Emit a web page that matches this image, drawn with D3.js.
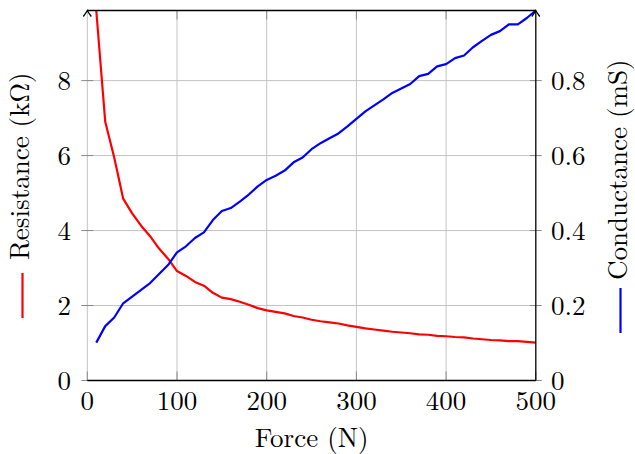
<!DOCTYPE html>
<html>
<head>
<meta charset="utf-8">
<script src="https://cdn.jsdelivr.net/npm/d3@7"></script>
<style>
  body { margin: 0; background: #fff; }
</style>
</head>
<body>
<div id="main"></div>
<script>
// force samples (N)
const force = [10, 20, 30, 40, 50, 60, 70, 80, 90, 100,
  110, 120, 130, 140, 150, 160, 170, 180, 190, 200,
  210, 220, 230, 240, 250, 260, 270, 280, 290, 300,
  310, 320, 330, 340, 350, 360, 370, 380, 390, 400,
  410, 420, 430, 440, 450, 460, 470, 480, 490, 500];
// resistance (kOhm)
const resistance = [9.87, 6.90, 5.95, 4.85, 4.46, 4.13, 3.85, 3.52, 3.25, 2.92,
  2.79, 2.63, 2.53, 2.34, 2.21, 2.17, 2.10, 2.02, 1.93, 1.87,
  1.83, 1.79, 1.72, 1.68, 1.62, 1.58, 1.55, 1.52, 1.47, 1.43,
  1.39, 1.36, 1.33, 1.30, 1.28, 1.26, 1.23, 1.22, 1.19, 1.18,
  1.16, 1.15, 1.12, 1.10, 1.08, 1.07, 1.05, 1.05, 1.03, 1.01];
// conductance (mS)
const conductance = [0.101, 0.145, 0.168, 0.206, 0.224, 0.242, 0.260, 0.284, 0.308, 0.342,
  0.358, 0.380, 0.395, 0.428, 0.452, 0.460, 0.477, 0.496, 0.518, 0.535,
  0.546, 0.560, 0.582, 0.595, 0.617, 0.633, 0.646, 0.659, 0.678, 0.698,
  0.718, 0.734, 0.750, 0.767, 0.779, 0.791, 0.812, 0.818, 0.838, 0.844,
  0.860, 0.867, 0.889, 0.906, 0.922, 0.932, 0.950, 0.950, 0.967, 0.987];
// tick values
const xTicks = [0, 100, 200, 300, 400, 500];
const leftTicks = [0, 2, 4, 6, 8];
const rightTicks = [0, 0.2, 0.4, 0.6, 0.8];

const serif = '"Latin Modern Roman", "Liberation Serif", "Times New Roman"';

function main() {
  const width = 635;
  const height = 454;
  // plot area edges
  const left = 87.3;
  const right = 535.8;
  const top = 10.5;
  const bottom = 380.5;
  const fontSize = 27;

  const xScale = d3.scaleLinear().domain([0, 500]).range([left, right]);
  const yLeft = d3.scaleLinear().domain([0, 9.87]).range([bottom, top]);
  const yRight = d3.scaleLinear().domain([0, 0.987]).range([bottom, top]);

  const svg = d3.select('#main')
    .append('svg')
    .attr('width', width)
    .attr('height', height)
    .style('display', 'block');

  svg.append('rect').attr('width', width).attr('height', height).attr('fill', '#fff');

  // grid lines
  const grid = svg.append('g').attr('stroke', '#c4c4c4').attr('stroke-width', 1);
  grid.selectAll('.vgrid')
    .data(xTicks.slice(1, -1))
    .enter()
    .append('line')
    .attr('x1', d => xScale(d)).attr('x2', d => xScale(d))
    .attr('y1', top).attr('y2', bottom);
  grid.selectAll('.hgrid')
    .data(leftTicks.slice(1))
    .enter()
    .append('line')
    .attr('x1', left).attr('x2', right)
    .attr('y1', d => yLeft(d)).attr('y2', d => yLeft(d));
  // left axis line is drawn light
  grid.append('line')
    .attr('x1', left).attr('x2', left)
    .attr('y1', top).attr('y2', bottom);

  // tick marks
  const ticks = svg.append('g').attr('stroke', '#8a8a8a').attr('stroke-width', 1);
  ticks.selectAll('.xt')
    .data(xTicks)
    .enter()
    .append('line')
    .attr('x1', d => xScale(d)).attr('x2', d => xScale(d))
    .attr('y1', bottom - 9).attr('y2', bottom);
  ticks.selectAll('.xtt')
    .data(xTicks.slice(1, -1))
    .enter()
    .append('line')
    .attr('x1', d => xScale(d)).attr('x2', d => xScale(d))
    .attr('y1', top).attr('y2', top + 9);
  ticks.selectAll('.lt')
    .data(leftTicks)
    .enter()
    .append('line')
    .attr('x1', left - 6).attr('x2', left + 6)
    .attr('y1', d => yLeft(d)).attr('y2', d => yLeft(d));
  ticks.selectAll('.rt')
    .data(rightTicks)
    .enter()
    .append('line')
    .attr('x1', right - 6).attr('x2', right + 6)
    .attr('y1', d => yRight(d)).attr('y2', d => yRight(d));

  // curves
  const lineLeft = d3.line().x((d, i) => xScale(force[i])).y(d => yLeft(d));
  const lineRight = d3.line().x((d, i) => xScale(force[i])).y(d => yRight(d));
  svg.append('defs').append('clipPath').attr('id', 'plotClip')
    .append('rect')
    .attr('x', left).attr('y', top)
    .attr('width', right - left).attr('height', bottom - top);
  svg.append('path')
    .datum(resistance)
    .attr('d', lineLeft)
    .attr('clip-path', 'url(#plotClip)')
    .attr('fill', 'none')
    .attr('stroke', '#ff0000')
    .attr('stroke-width', 2.2)
    .attr('stroke-linejoin', 'round');
  svg.append('path')
    .datum(conductance)
    .attr('d', lineRight)
    .attr('fill', 'none')
    .attr('stroke', '#0000ff')
    .attr('stroke-width', 2.2)
    .attr('stroke-linejoin', 'round');

  // black frame lines: bottom, top, right
  const frame = svg.append('g').attr('stroke', '#000').attr('stroke-width', 1.3).attr('fill', 'none');
  frame.append('line').attr('x1', left).attr('x2', right).attr('y1', bottom).attr('y2', bottom);
  frame.append('line').attr('x1', left).attr('x2', right).attr('y1', top).attr('y2', top);
  frame.append('line').attr('x1', right).attr('x2', right).attr('y1', top).attr('y2', bottom);
  // arrow tips at the top of both y axes
  [left, right].forEach((x) => {
    frame.append('path')
      .attr('d', `M${x - 4},${top + 6} Q${x - 1},${top + 2} ${x},${top} Q${x + 1},${top + 2} ${x + 4},${top + 6}`);
  });

  // tick labels
  const labels = svg.append('g').attr('font-size', fontSize).attr('fill', '#000');
  labels.selectAll('.xl')
    .data(xTicks)
    .enter()
    .append('text')
    .attr('x', d => xScale(d))
    .attr('y', 410)
    .style('font-family', serif)
    .style('text-anchor', 'middle')
    .text(d => d);
  labels.selectAll('.ll')
    .data(leftTicks)
    .enter()
    .append('text')
    .attr('x', 71)
    .attr('y', d => yLeft(d) + 9.5)
    .style('font-family', serif)
    .style('text-anchor', 'end')
    .text(d => d);
  labels.selectAll('.rl')
    .data(rightTicks)
    .enter()
    .append('text')
    .attr('x', 551)
    .attr('y', d => yRight(d) + 9.5)
    .style('font-family', serif)
    .style('text-anchor', 'start')
    .text(d => d3.format('.1~f')(d));

  // x axis label
  svg.append('text')
    .attr('x', (left + right) / 2)
    .attr('y', 446.5)
    .attr('font-size', fontSize)
    .style('font-family', serif)
    .style('text-anchor', 'middle')
    .text('Force (N)');

  // left axis label with red legend line
  const leftLabel = svg.append('g').attr('transform', 'translate(28.5, 318) rotate(-90)');
  leftLabel.append('line')
    .attr('x1', 0).attr('x2', 45)
    .attr('y1', -6).attr('y2', -6)
    .attr('stroke', '#ff0000').attr('stroke-width', 2.2);
  leftLabel.append('text')
    .attr('x', 58).attr('y', 0)
    .attr('font-size', fontSize)
    .style('font-family', serif)
    .text('Resistance (kΩ)');

  // right axis label with blue legend line
  const rightLabel = svg.append('g').attr('transform', 'translate(626.5, 333) rotate(-90)');
  rightLabel.append('line')
    .attr('x1', 0).attr('x2', 45)
    .attr('y1', -6).attr('y2', -6)
    .attr('stroke', '#0000ff').attr('stroke-width', 2.2);
  rightLabel.append('text')
    .attr('x', 53).attr('y', 0)
    .attr('font-size', fontSize)
    .style('font-family', serif)
    .text('Conductance (mS)');
}

document.addEventListener('DOMContentLoaded', main);
</script>
</body>
</html>
